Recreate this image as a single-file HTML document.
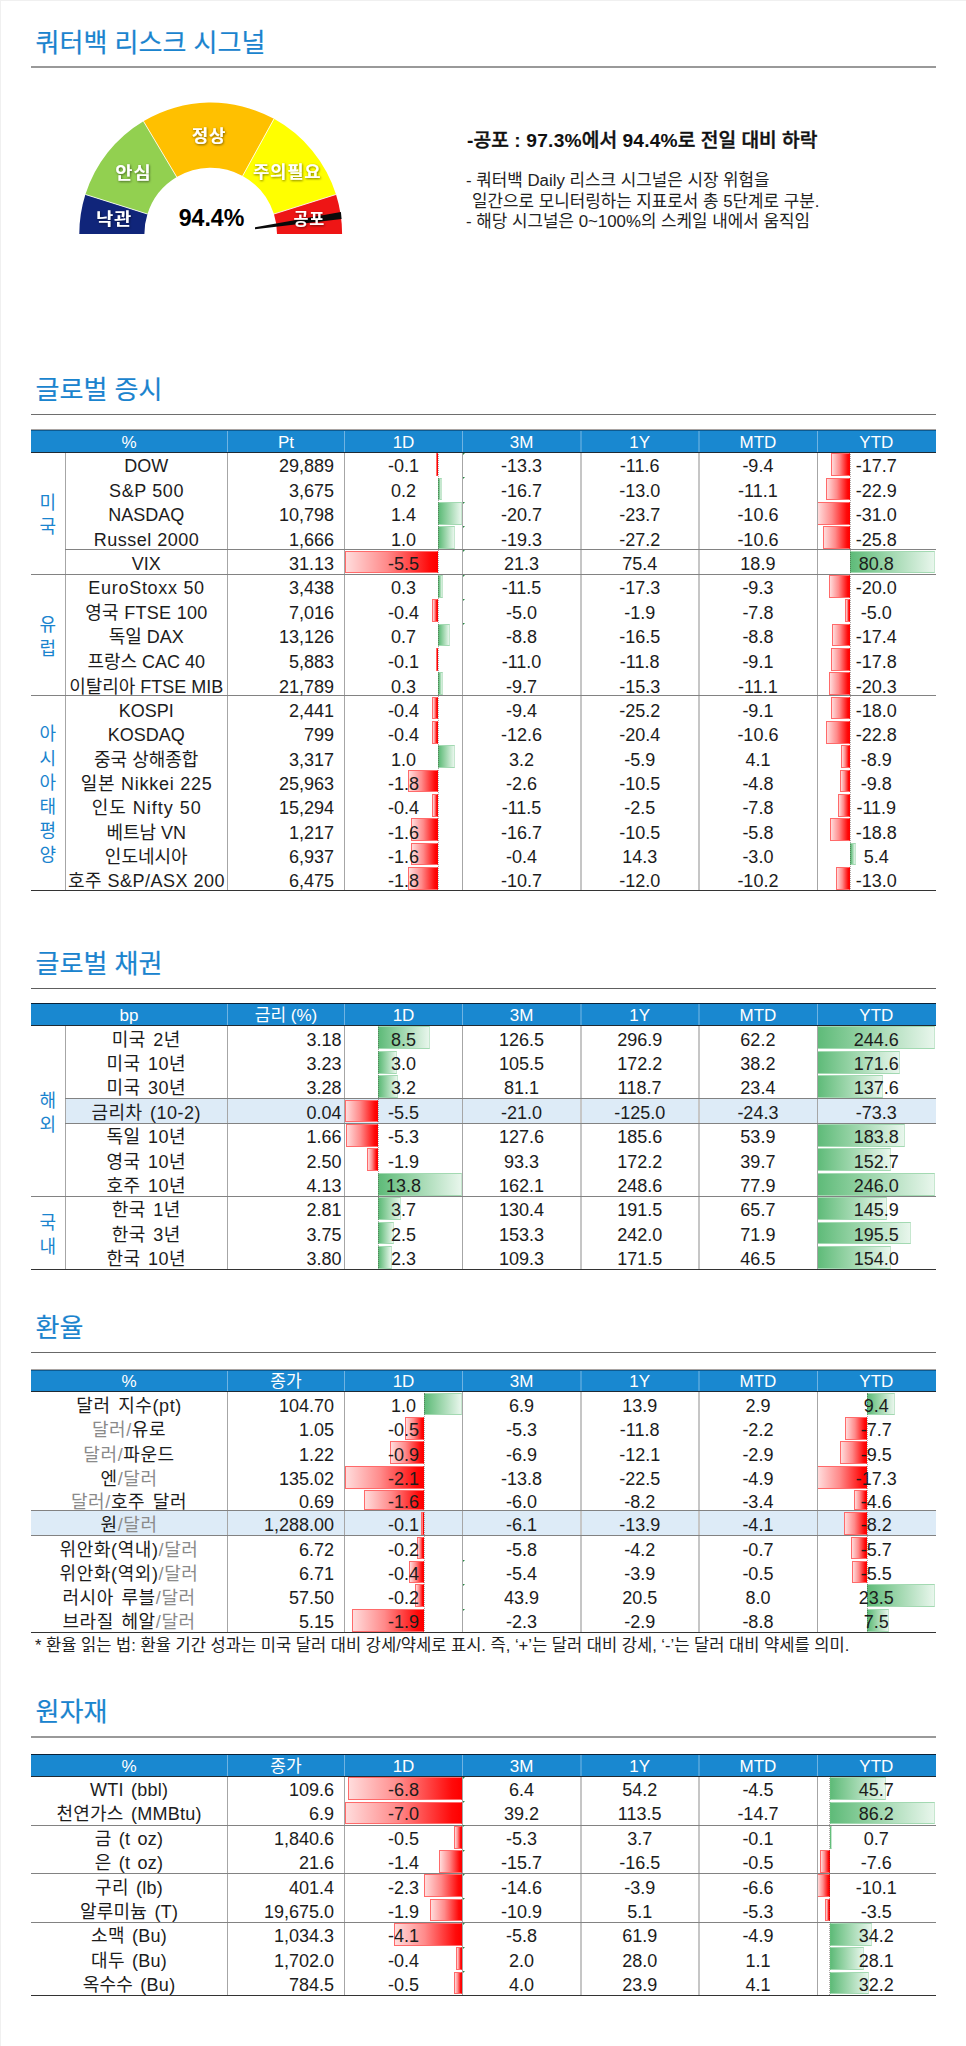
<!DOCTYPE html>
<html lang="ko"><head><meta charset="utf-8"><title>쿼터백 리스크 시그널</title>
<style>
html,body{margin:0;padding:0;background:#fff;}
body{width:966px;height:2046px;position:relative;overflow:hidden;font-family:"Liberation Sans", "Noto Sans CJK KR", sans-serif;color:#1c1c1c;font-size:18px;}
#pg{position:absolute;left:0;top:0;width:966px;height:2046px;overflow:hidden;}
#pg div{position:absolute;box-sizing:border-box;white-space:nowrap;}
.ttl{font-size:26px;line-height:40px;height:40px;color:#1a84ce;letter-spacing:0px;-webkit-text-stroke:.2px #1a84ce;}
.hc{color:#fff;text-align:center;font-size:17px;}
.c{text-align:center;}
.r{text-align:right;}
.rg{color:#1a84ce;text-align:center;display:flex;align-items:center;justify-content:center;}
.rg span{display:block;line-height:24.2px;position:relative;top:1.8px;}
.g{color:#8a8a8a;}
.bg{background:linear-gradient(90deg,#5fbb79 0%,#8fd0a0 35%,#e8f6ec 100%);border:1px solid #a3d9b2;border-left-color:#63be7b;border-right-color:#c6e7cf;}
.br{background:linear-gradient(90deg,#ffdcdc 0%,#ff8a8a 45%,#ff0a0a 92%,#ff0000 100%);border:1px solid #ff6a6a;border-right-color:#f00;}
.tri{width:0;height:0;border-top:2.4px solid #2c8a48;border-right:2.4px solid transparent;}
.p{font-size:16.85px;line-height:20.5px;color:#222;}
.w{letter-spacing:.6px;}
.hd b{font-weight:700;-webkit-text-stroke:0;letter-spacing:.2px;}

</style></head><body><div id="pg">
<div style="left:0px;top:0px;width:966px;height:1px;background:#f0f0f0;"></div>
<div style="left:0px;top:0px;width:1px;height:2046px;background:#f0f0f0;"></div>
<div class="ttl" style="left:35.6px;top:23.2px;">쿼터백 리스크 시그널</div>
<div style="left:31px;top:66px;width:904.6px;height:2px;background:#999;"></div>
<svg width="420" height="200" viewBox="0 60 420 200" style="position:absolute;left:0;top:60px;font-family:'Liberation Sans', 'Noto Sans CJK KR', sans-serif;"><defs><filter id="sh" x="-20%" y="-20%" width="140%" height="150%"><feDropShadow dx="0.6" dy="0.9" stdDeviation="0.9" flood-color="#000" flood-opacity="0.55"/></filter></defs><path d="M79.30 234.00 A131.40 131.40 0 0 1 85.38 194.49 L147.47 214.06 A66.30 66.30 0 0 0 144.40 234.00 Z" fill="#10257a"/><path d="M85.38 194.49 A131.40 131.40 0 0 1 143.42 121.13 L176.75 177.05 A66.30 66.30 0 0 0 147.47 214.06 Z" fill="#92d050"/><path d="M143.42 121.13 A131.40 131.40 0 0 1 274.00 118.85 L242.64 175.90 A66.30 66.30 0 0 0 176.75 177.05 Z" fill="#ffc000"/><path d="M274.00 118.85 A131.40 131.40 0 0 1 336.02 194.49 L273.93 214.06 A66.30 66.30 0 0 0 242.64 175.90 Z" fill="#ffff00"/><path d="M336.02 194.49 A131.40 131.40 0 0 1 342.10 234.00 L277.00 234.00 A66.30 66.30 0 0 0 273.93 214.06 Z" fill="#ee1515"/><line x1="85.38" y1="194.49" x2="147.47" y2="214.06" stroke="#fff" stroke-width="0.9" stroke-opacity="0.9"/><line x1="143.42" y1="121.13" x2="176.75" y2="177.05" stroke="#fff" stroke-width="0.9" stroke-opacity="0.9"/><line x1="274.00" y1="118.85" x2="242.64" y2="175.90" stroke="#fff" stroke-width="0.9" stroke-opacity="0.9"/><line x1="336.02" y1="194.49" x2="273.93" y2="214.06" stroke="#fff" stroke-width="0.9" stroke-opacity="0.9"/><polygon points="255,227.3 255,229.2 341.6,219.1 340.9,212.1" fill="#0a0a0a"/><text transform="translate(114.0 219.5) scale(1.13 1)" x="0" y="0" text-anchor="middle" dominant-baseline="central" font-size="16.6" font-weight="700" letter-spacing="0.7" fill="#fff" filter="url(#sh)">낙관</text><text transform="translate(133.4 173.5) scale(1.13 1)" x="0" y="0" text-anchor="middle" dominant-baseline="central" font-size="16.6" font-weight="700" letter-spacing="0.7" fill="#fff" filter="url(#sh)">안심</text><text transform="translate(209.0 136.5) scale(1.08 1)" x="0" y="0" text-anchor="middle" dominant-baseline="central" font-size="16.6" font-weight="700" letter-spacing="0.7" fill="#fff" filter="url(#sh)">정상</text><text transform="translate(287.2 172.3) scale(1.07 1)" x="0" y="0" text-anchor="middle" dominant-baseline="central" font-size="16.6" font-weight="700" letter-spacing="0.7" fill="#fff" filter="url(#sh)">주의필요</text><text transform="translate(309.2 219.3) scale(0.98 1)" x="0" y="0" text-anchor="middle" dominant-baseline="central" font-size="16.6" font-weight="700" letter-spacing="0.7" fill="#fff" filter="url(#sh)">공포</text><text x="211.5" y="217.5" text-anchor="middle" dominant-baseline="central" font-size="23.2" font-weight="700" fill="#000">94.4%</text></svg>
<div class="hd" style="left:467px;top:128.5px;font-size:19.2px;line-height:24px;font-weight:500;color:#111;-webkit-text-stroke:.45px #111;"><b>-</b>공포 <b>: 97.3%</b>에서 <b>94.4%</b>로 전일 대비 하락</div>
<div class="p" style="left:466px;top:170.5px;">- 쿼터백 Daily 리스크 시그널은 시장 위험을</div>
<div class="p" style="left:472px;top:191.5px;">일간으로 모니터링하는 지표로서 총 5단계로 구분.</div>
<div class="p" style="left:466px;top:212px;">- 해당 시그널은 0~100%의 스케일 내에서 움직임</div>
<div class="ttl" style="left:35.6px;top:370.2px;">글로벌 증시</div>
<div style="left:31px;top:414px;width:904.6px;height:1px;background:#6e6e6e;"></div>
<div style="left:30.6px;top:430px;width:905px;height:22.6px;background:#1988d0;"></div>
<div style="left:30.6px;top:429px;width:905px;height:1px;background:#a9a4a2;"></div>
<div style="left:30.6px;top:430px;width:905px;height:1px;background:#0d5a90;"></div>
<div class="hc" style="left:30.6px;top:431px;width:196.9px;height:21.6px;line-height:23.1px;">%</div>
<div class="hc" style="left:227.5px;top:431px;width:117px;height:21.6px;line-height:23.1px;">Pt</div>
<div class="hc" style="left:344.5px;top:431px;width:118px;height:21.6px;line-height:23.1px;">1D</div>
<div class="hc" style="left:462.5px;top:431px;width:118.1px;height:21.6px;line-height:23.1px;">3M</div>
<div class="hc" style="left:580.6px;top:431px;width:118.2px;height:21.6px;line-height:23.1px;">1Y</div>
<div class="hc" style="left:698.8px;top:431px;width:118.2px;height:21.6px;line-height:23.1px;">MTD</div>
<div class="hc" style="left:817px;top:431px;width:118.6px;height:21.6px;line-height:23.1px;">YTD</div>
<div style="left:227px;top:431px;width:1px;height:21.6px;background:#6fb3e2;"></div>
<div style="left:344px;top:431px;width:1px;height:21.6px;background:#6fb3e2;"></div>
<div style="left:462px;top:431px;width:1px;height:21.6px;background:#6fb3e2;"></div>
<div style="left:580px;top:431px;width:2px;height:21.6px;background:#48a0da;"></div>
<div style="left:698px;top:431px;width:2px;height:21.6px;background:#48a0da;"></div>
<div style="left:817px;top:431px;width:1px;height:21.6px;background:#6fb3e2;"></div>
<div class="br" style="left:436.4px;top:453.3px;width:2px;height:22.83px;"></div>
<div class="bg" style="left:438.4px;top:477.63px;width:3.4px;height:22.83px;"></div>
<div class="bg" style="left:438.4px;top:501.96px;width:23.8px;height:22.83px;"></div>
<div class="bg" style="left:438.4px;top:526.29px;width:17px;height:22.83px;"></div>
<div class="br" style="left:344.9px;top:550.62px;width:93.5px;height:22.83px;"></div>
<div class="bg" style="left:438.4px;top:574.95px;width:5.1px;height:22.83px;"></div>
<div class="br" style="left:431.6px;top:599.28px;width:6.8px;height:22.83px;"></div>
<div class="bg" style="left:438.4px;top:623.61px;width:11.9px;height:22.83px;"></div>
<div class="br" style="left:436.4px;top:647.94px;width:2px;height:22.83px;"></div>
<div class="bg" style="left:438.4px;top:672.27px;width:5.1px;height:22.83px;"></div>
<div class="br" style="left:431.6px;top:696.6px;width:6.8px;height:22.83px;"></div>
<div class="br" style="left:431.6px;top:720.93px;width:6.8px;height:22.83px;"></div>
<div class="bg" style="left:438.4px;top:745.26px;width:17px;height:22.83px;"></div>
<div class="br" style="left:407.8px;top:769.59px;width:30.6px;height:22.83px;"></div>
<div class="br" style="left:431.6px;top:793.92px;width:6.8px;height:22.83px;"></div>
<div class="br" style="left:411.2px;top:818.25px;width:27.2px;height:22.83px;"></div>
<div class="br" style="left:411.2px;top:842.58px;width:27.2px;height:22.83px;"></div>
<div class="br" style="left:407.8px;top:866.91px;width:30.6px;height:22.83px;"></div>
<div style="left:437.9px;top:453.6px;width:0px;height:436.94px;border-left:1px dotted rgba(60,40,40,.4);"></div>
<div class="br" style="left:831.43px;top:453.3px;width:18.67px;height:22.83px;"></div>
<div class="br" style="left:825.94px;top:477.63px;width:24.15px;height:22.83px;"></div>
<div class="br" style="left:817.4px;top:501.96px;width:32.69px;height:22.83px;"></div>
<div class="br" style="left:822.88px;top:526.29px;width:27.21px;height:22.83px;"></div>
<div class="bg" style="left:850.09px;top:550.62px;width:85.21px;height:22.83px;"></div>
<div class="br" style="left:829px;top:574.95px;width:21.09px;height:22.83px;"></div>
<div class="br" style="left:844.82px;top:599.28px;width:5.27px;height:22.83px;"></div>
<div class="br" style="left:831.74px;top:623.61px;width:18.35px;height:22.83px;"></div>
<div class="br" style="left:831.32px;top:647.94px;width:18.77px;height:22.83px;"></div>
<div class="br" style="left:828.68px;top:672.27px;width:21.41px;height:22.83px;"></div>
<div class="br" style="left:831.11px;top:696.6px;width:18.98px;height:22.83px;"></div>
<div class="br" style="left:826.05px;top:720.93px;width:24.04px;height:22.83px;"></div>
<div class="br" style="left:840.71px;top:745.26px;width:9.39px;height:22.83px;"></div>
<div class="br" style="left:839.76px;top:769.59px;width:10.33px;height:22.83px;"></div>
<div class="br" style="left:837.54px;top:793.92px;width:12.55px;height:22.83px;"></div>
<div class="br" style="left:830.27px;top:818.25px;width:19.83px;height:22.83px;"></div>
<div class="bg" style="left:850.09px;top:842.58px;width:5.69px;height:22.83px;"></div>
<div class="br" style="left:836.38px;top:866.91px;width:13.71px;height:22.83px;"></div>
<div style="left:849.59px;top:453.6px;width:0px;height:436.94px;border-left:1px dotted rgba(60,40,40,.4);"></div>
<div style="left:65px;top:452.6px;width:1px;height:437.94px;background:#a6a6a6;"></div>
<div style="left:227px;top:452.6px;width:1px;height:437.94px;background:#a6a6a6;"></div>
<div style="left:344px;top:452.6px;width:1px;height:437.94px;background:#a6a6a6;"></div>
<div style="left:462px;top:452.6px;width:1px;height:437.94px;background:#a6a6a6;"></div>
<div style="left:580px;top:452.6px;width:2px;height:437.94px;background:#c6c6c6;"></div>
<div style="left:698px;top:452.6px;width:2px;height:437.94px;background:#c6c6c6;"></div>
<div style="left:817px;top:452.6px;width:1px;height:437.94px;background:#a6a6a6;"></div>
<div style="left:30.6px;top:452px;width:905px;height:1px;background:#1f2a33;"></div>
<div style="left:30.6px;top:890.14px;width:905px;height:1.2px;background:#333;"></div>
<div style="left:65px;top:549.42px;width:870.6px;height:1px;background:#828282;"></div>
<div style="left:30.6px;top:573.75px;width:905px;height:1px;background:#828282;"></div>
<div style="left:30.6px;top:695.4px;width:905px;height:1px;background:#828282;"></div>
<div class="rg" style="left:30.6px;top:452.6px;width:34.4px;height:121.65px;"><span>미<br>국</span></div>
<div class="rg" style="left:30.6px;top:574.25px;width:34.4px;height:121.65px;"><span>유<br>럽</span></div>
<div class="rg" style="left:30.6px;top:695.9px;width:34.4px;height:194.64px;"><span>아<br>시<br>아<br>태<br>평<br>양</span></div>
<div class="c" style="left:65px;top:452.6px;width:162.5px;height:24.33px;line-height:27.73px;">DOW</div>
<div class="r" style="left:227.5px;top:452.6px;width:106.5px;height:24.33px;line-height:27.73px;">29,889</div>
<div class="c" style="left:344.5px;top:452.6px;width:118px;height:24.33px;line-height:27.73px;">-0.1</div>
<div class="c" style="left:462.5px;top:452.6px;width:118.1px;height:24.33px;line-height:27.73px;">-13.3</div>
<div class="c" style="left:580.6px;top:452.6px;width:118.2px;height:24.33px;line-height:27.73px;">-11.6</div>
<div class="c" style="left:698.8px;top:452.6px;width:118.2px;height:24.33px;line-height:27.73px;">-9.4</div>
<div class="c" style="left:817px;top:452.6px;width:118.6px;height:24.33px;line-height:27.73px;">-17.7</div>
<div class="c" style="left:65px;top:476.93px;width:162.5px;height:24.33px;line-height:28.03px;"><span style="letter-spacing:0.6px;margin-right:-0.6px">S&amp;P 500</span></div>
<div class="r" style="left:227.5px;top:476.93px;width:106.5px;height:24.33px;line-height:28.03px;">3,675</div>
<div class="c" style="left:344.5px;top:476.93px;width:118px;height:24.33px;line-height:28.03px;">0.2</div>
<div class="c" style="left:462.5px;top:476.93px;width:118.1px;height:24.33px;line-height:28.03px;">-16.7</div>
<div class="c" style="left:580.6px;top:476.93px;width:118.2px;height:24.33px;line-height:28.03px;">-13.0</div>
<div class="c" style="left:698.8px;top:476.93px;width:118.2px;height:24.33px;line-height:28.03px;">-11.1</div>
<div class="c" style="left:817px;top:476.93px;width:118.6px;height:24.33px;line-height:28.03px;">-22.9</div>
<div class="c" style="left:65px;top:501.26px;width:162.5px;height:24.33px;line-height:28.33px;">NASDAQ</div>
<div class="r" style="left:227.5px;top:501.26px;width:106.5px;height:24.33px;line-height:28.33px;">10,798</div>
<div class="c" style="left:344.5px;top:501.26px;width:118px;height:24.33px;line-height:28.33px;">1.4</div>
<div class="c" style="left:462.5px;top:501.26px;width:118.1px;height:24.33px;line-height:28.33px;">-20.7</div>
<div class="c" style="left:580.6px;top:501.26px;width:118.2px;height:24.33px;line-height:28.33px;">-23.7</div>
<div class="c" style="left:698.8px;top:501.26px;width:118.2px;height:24.33px;line-height:28.33px;">-10.6</div>
<div class="c" style="left:817px;top:501.26px;width:118.6px;height:24.33px;line-height:28.33px;">-31.0</div>
<div class="c" style="left:65px;top:525.59px;width:162.5px;height:24.33px;line-height:28.63px;"><span style="letter-spacing:0.5px;margin-right:-0.5px">Russel 2000</span></div>
<div class="r" style="left:227.5px;top:525.59px;width:106.5px;height:24.33px;line-height:28.63px;">1,666</div>
<div class="c" style="left:344.5px;top:525.59px;width:118px;height:24.33px;line-height:28.63px;">1.0</div>
<div class="c" style="left:462.5px;top:525.59px;width:118.1px;height:24.33px;line-height:28.63px;">-19.3</div>
<div class="c" style="left:580.6px;top:525.59px;width:118.2px;height:24.33px;line-height:28.63px;">-27.2</div>
<div class="c" style="left:698.8px;top:525.59px;width:118.2px;height:24.33px;line-height:28.63px;">-10.6</div>
<div class="c" style="left:817px;top:525.59px;width:118.6px;height:24.33px;line-height:28.63px;">-25.8</div>
<div class="c" style="left:65px;top:549.92px;width:162.5px;height:24.33px;line-height:28.93px;">VIX</div>
<div class="r" style="left:227.5px;top:549.92px;width:106.5px;height:24.33px;line-height:28.93px;">31.13</div>
<div class="c" style="left:344.5px;top:549.92px;width:118px;height:24.33px;line-height:28.93px;">-5.5</div>
<div class="c" style="left:462.5px;top:549.92px;width:118.1px;height:24.33px;line-height:28.93px;">21.3</div>
<div class="c" style="left:580.6px;top:549.92px;width:118.2px;height:24.33px;line-height:28.93px;">75.4</div>
<div class="c" style="left:698.8px;top:549.92px;width:118.2px;height:24.33px;line-height:28.93px;">18.9</div>
<div class="c" style="left:817px;top:549.92px;width:118.6px;height:24.33px;line-height:28.93px;">80.8</div>
<div class="c" style="left:65px;top:574.25px;width:162.5px;height:24.33px;line-height:29.23px;"><span style="letter-spacing:0.7px;margin-right:-0.7px">EuroStoxx 50</span></div>
<div class="r" style="left:227.5px;top:574.25px;width:106.5px;height:24.33px;line-height:29.23px;">3,438</div>
<div class="c" style="left:344.5px;top:574.25px;width:118px;height:24.33px;line-height:29.23px;">0.3</div>
<div class="c" style="left:462.5px;top:574.25px;width:118.1px;height:24.33px;line-height:29.23px;">-11.5</div>
<div class="c" style="left:580.6px;top:574.25px;width:118.2px;height:24.33px;line-height:29.23px;">-17.3</div>
<div class="c" style="left:698.8px;top:574.25px;width:118.2px;height:24.33px;line-height:29.23px;">-9.3</div>
<div class="c" style="left:817px;top:574.25px;width:118.6px;height:24.33px;line-height:29.23px;">-20.0</div>
<div class="c" style="left:65px;top:598.58px;width:162.5px;height:24.33px;line-height:29.53px;"><span style="letter-spacing:0.3px;margin-right:-0.3px">영국 FTSE 100</span></div>
<div class="r" style="left:227.5px;top:598.58px;width:106.5px;height:24.33px;line-height:29.53px;">7,016</div>
<div class="c" style="left:344.5px;top:598.58px;width:118px;height:24.33px;line-height:29.53px;">-0.4</div>
<div class="c" style="left:462.5px;top:598.58px;width:118.1px;height:24.33px;line-height:29.53px;">-5.0</div>
<div class="c" style="left:580.6px;top:598.58px;width:118.2px;height:24.33px;line-height:29.53px;">-1.9</div>
<div class="c" style="left:698.8px;top:598.58px;width:118.2px;height:24.33px;line-height:29.53px;">-7.8</div>
<div class="c" style="left:817px;top:598.58px;width:118.6px;height:24.33px;line-height:29.53px;">-5.0</div>
<div class="c" style="left:65px;top:622.91px;width:162.5px;height:24.33px;line-height:29.83px;">독일 DAX</div>
<div class="r" style="left:227.5px;top:622.91px;width:106.5px;height:24.33px;line-height:29.83px;">13,126</div>
<div class="c" style="left:344.5px;top:622.91px;width:118px;height:24.33px;line-height:29.83px;">0.7</div>
<div class="c" style="left:462.5px;top:622.91px;width:118.1px;height:24.33px;line-height:29.83px;">-8.8</div>
<div class="c" style="left:580.6px;top:622.91px;width:118.2px;height:24.33px;line-height:29.83px;">-16.5</div>
<div class="c" style="left:698.8px;top:622.91px;width:118.2px;height:24.33px;line-height:29.83px;">-8.8</div>
<div class="c" style="left:817px;top:622.91px;width:118.6px;height:24.33px;line-height:29.83px;">-17.4</div>
<div class="c" style="left:65px;top:647.24px;width:162.5px;height:24.33px;line-height:30.13px;">프랑스 CAC 40</div>
<div class="r" style="left:227.5px;top:647.24px;width:106.5px;height:24.33px;line-height:30.13px;">5,883</div>
<div class="c" style="left:344.5px;top:647.24px;width:118px;height:24.33px;line-height:30.13px;">-0.1</div>
<div class="c" style="left:462.5px;top:647.24px;width:118.1px;height:24.33px;line-height:30.13px;">-11.0</div>
<div class="c" style="left:580.6px;top:647.24px;width:118.2px;height:24.33px;line-height:30.13px;">-11.8</div>
<div class="c" style="left:698.8px;top:647.24px;width:118.2px;height:24.33px;line-height:30.13px;">-9.1</div>
<div class="c" style="left:817px;top:647.24px;width:118.6px;height:24.33px;line-height:30.13px;">-17.8</div>
<div class="c" style="left:65px;top:671.57px;width:162.5px;height:24.33px;line-height:30.43px;">이탈리아 FTSE MIB</div>
<div class="r" style="left:227.5px;top:671.57px;width:106.5px;height:24.33px;line-height:30.43px;">21,789</div>
<div class="c" style="left:344.5px;top:671.57px;width:118px;height:24.33px;line-height:30.43px;">0.3</div>
<div class="c" style="left:462.5px;top:671.57px;width:118.1px;height:24.33px;line-height:30.43px;">-9.7</div>
<div class="c" style="left:580.6px;top:671.57px;width:118.2px;height:24.33px;line-height:30.43px;">-15.3</div>
<div class="c" style="left:698.8px;top:671.57px;width:118.2px;height:24.33px;line-height:30.43px;">-11.1</div>
<div class="c" style="left:817px;top:671.57px;width:118.6px;height:24.33px;line-height:30.43px;">-20.3</div>
<div class="c" style="left:65px;top:695.9px;width:162.5px;height:24.33px;line-height:30.53px;">KOSPI</div>
<div class="r" style="left:227.5px;top:695.9px;width:106.5px;height:24.33px;line-height:30.53px;">2,441</div>
<div class="c" style="left:344.5px;top:695.9px;width:118px;height:24.33px;line-height:30.53px;">-0.4</div>
<div class="c" style="left:462.5px;top:695.9px;width:118.1px;height:24.33px;line-height:30.53px;">-9.4</div>
<div class="c" style="left:580.6px;top:695.9px;width:118.2px;height:24.33px;line-height:30.53px;">-25.2</div>
<div class="c" style="left:698.8px;top:695.9px;width:118.2px;height:24.33px;line-height:30.53px;">-9.1</div>
<div class="c" style="left:817px;top:695.9px;width:118.6px;height:24.33px;line-height:30.53px;">-18.0</div>
<div class="c" style="left:65px;top:720.23px;width:162.5px;height:24.33px;line-height:30.53px;">KOSDAQ</div>
<div class="r" style="left:227.5px;top:720.23px;width:106.5px;height:24.33px;line-height:30.53px;">799</div>
<div class="c" style="left:344.5px;top:720.23px;width:118px;height:24.33px;line-height:30.53px;">-0.4</div>
<div class="c" style="left:462.5px;top:720.23px;width:118.1px;height:24.33px;line-height:30.53px;">-12.6</div>
<div class="c" style="left:580.6px;top:720.23px;width:118.2px;height:24.33px;line-height:30.53px;">-20.4</div>
<div class="c" style="left:698.8px;top:720.23px;width:118.2px;height:24.33px;line-height:30.53px;">-10.6</div>
<div class="c" style="left:817px;top:720.23px;width:118.6px;height:24.33px;line-height:30.53px;">-22.8</div>
<div class="c" style="left:65px;top:744.56px;width:162.5px;height:24.33px;line-height:30.53px;">중국 상해종합</div>
<div class="r" style="left:227.5px;top:744.56px;width:106.5px;height:24.33px;line-height:30.53px;">3,317</div>
<div class="c" style="left:344.5px;top:744.56px;width:118px;height:24.33px;line-height:30.53px;">1.0</div>
<div class="c" style="left:462.5px;top:744.56px;width:118.1px;height:24.33px;line-height:30.53px;">3.2</div>
<div class="c" style="left:580.6px;top:744.56px;width:118.2px;height:24.33px;line-height:30.53px;">-5.9</div>
<div class="c" style="left:698.8px;top:744.56px;width:118.2px;height:24.33px;line-height:30.53px;">4.1</div>
<div class="c" style="left:817px;top:744.56px;width:118.6px;height:24.33px;line-height:30.53px;">-8.9</div>
<div class="c" style="left:65px;top:768.89px;width:162.5px;height:24.33px;line-height:30.53px;"><span style="letter-spacing:0.75px;margin-right:-0.75px">일본 Nikkei 225</span></div>
<div class="r" style="left:227.5px;top:768.89px;width:106.5px;height:24.33px;line-height:30.53px;">25,963</div>
<div class="c" style="left:344.5px;top:768.89px;width:118px;height:24.33px;line-height:30.53px;">-1.8</div>
<div class="c" style="left:462.5px;top:768.89px;width:118.1px;height:24.33px;line-height:30.53px;">-2.6</div>
<div class="c" style="left:580.6px;top:768.89px;width:118.2px;height:24.33px;line-height:30.53px;">-10.5</div>
<div class="c" style="left:698.8px;top:768.89px;width:118.2px;height:24.33px;line-height:30.53px;">-4.8</div>
<div class="c" style="left:817px;top:768.89px;width:118.6px;height:24.33px;line-height:30.53px;">-9.8</div>
<div class="c" style="left:65px;top:793.22px;width:162.5px;height:24.33px;line-height:30.53px;"><span style="letter-spacing:1.0px;margin-right:-1.0px">인도 Nifty 50</span></div>
<div class="r" style="left:227.5px;top:793.22px;width:106.5px;height:24.33px;line-height:30.53px;">15,294</div>
<div class="c" style="left:344.5px;top:793.22px;width:118px;height:24.33px;line-height:30.53px;">-0.4</div>
<div class="c" style="left:462.5px;top:793.22px;width:118.1px;height:24.33px;line-height:30.53px;">-11.5</div>
<div class="c" style="left:580.6px;top:793.22px;width:118.2px;height:24.33px;line-height:30.53px;">-2.5</div>
<div class="c" style="left:698.8px;top:793.22px;width:118.2px;height:24.33px;line-height:30.53px;">-7.8</div>
<div class="c" style="left:817px;top:793.22px;width:118.6px;height:24.33px;line-height:30.53px;">-11.9</div>
<div class="c" style="left:65px;top:817.55px;width:162.5px;height:24.33px;line-height:30.53px;">베트남 VN</div>
<div class="r" style="left:227.5px;top:817.55px;width:106.5px;height:24.33px;line-height:30.53px;">1,217</div>
<div class="c" style="left:344.5px;top:817.55px;width:118px;height:24.33px;line-height:30.53px;">-1.6</div>
<div class="c" style="left:462.5px;top:817.55px;width:118.1px;height:24.33px;line-height:30.53px;">-16.7</div>
<div class="c" style="left:580.6px;top:817.55px;width:118.2px;height:24.33px;line-height:30.53px;">-10.5</div>
<div class="c" style="left:698.8px;top:817.55px;width:118.2px;height:24.33px;line-height:30.53px;">-5.8</div>
<div class="c" style="left:817px;top:817.55px;width:118.6px;height:24.33px;line-height:30.53px;">-18.8</div>
<div class="c" style="left:65px;top:841.88px;width:162.5px;height:24.33px;line-height:30.53px;">인도네시아</div>
<div class="r" style="left:227.5px;top:841.88px;width:106.5px;height:24.33px;line-height:30.53px;">6,937</div>
<div class="c" style="left:344.5px;top:841.88px;width:118px;height:24.33px;line-height:30.53px;">-1.6</div>
<div class="c" style="left:462.5px;top:841.88px;width:118.1px;height:24.33px;line-height:30.53px;">-0.4</div>
<div class="c" style="left:580.6px;top:841.88px;width:118.2px;height:24.33px;line-height:30.53px;">14.3</div>
<div class="c" style="left:698.8px;top:841.88px;width:118.2px;height:24.33px;line-height:30.53px;">-3.0</div>
<div class="c" style="left:817px;top:841.88px;width:118.6px;height:24.33px;line-height:30.53px;">5.4</div>
<div class="c" style="left:65px;top:866.21px;width:162.5px;height:24.33px;line-height:30.53px;"><span style="letter-spacing:0.5px;margin-right:-0.5px">호주 S&amp;P/ASX 200</span></div>
<div class="r" style="left:227.5px;top:866.21px;width:106.5px;height:24.33px;line-height:30.53px;">6,475</div>
<div class="c" style="left:344.5px;top:866.21px;width:118px;height:24.33px;line-height:30.53px;">-1.8</div>
<div class="c" style="left:462.5px;top:866.21px;width:118.1px;height:24.33px;line-height:30.53px;">-10.7</div>
<div class="c" style="left:580.6px;top:866.21px;width:118.2px;height:24.33px;line-height:30.53px;">-12.0</div>
<div class="c" style="left:698.8px;top:866.21px;width:118.2px;height:24.33px;line-height:30.53px;">-10.2</div>
<div class="c" style="left:817px;top:866.21px;width:118.6px;height:24.33px;line-height:30.53px;">-13.0</div>
<div class="tri" style="left:462.8px;top:452.9px;"></div>
<div class="tri" style="left:462.8px;top:477.23px;"></div>
<div class="tri" style="left:462.8px;top:501.56px;"></div>
<div class="tri" style="left:462.8px;top:525.89px;"></div>
<div class="tri" style="left:462.8px;top:550.22px;"></div>
<div class="tri" style="left:462.8px;top:574.55px;"></div>
<div class="tri" style="left:462.8px;top:598.88px;"></div>
<div class="tri" style="left:462.8px;top:623.21px;"></div>
<div class="ttl" style="left:35.6px;top:944.2px;">글로벌 채권</div>
<div style="left:31px;top:988px;width:904.6px;height:1px;background:#5e5e5e;"></div>
<div style="left:30.6px;top:1003px;width:905px;height:22.6px;background:#1988d0;"></div>
<div style="left:30.6px;top:1003px;width:905px;height:1px;background:#0a2238;"></div>
<div class="hc" style="left:30.6px;top:1004px;width:196.9px;height:21.6px;line-height:23.1px;">bp</div>
<div class="hc" style="left:227.5px;top:1004px;width:117px;height:21.6px;line-height:23.1px;">금리 (%)</div>
<div class="hc" style="left:344.5px;top:1004px;width:118px;height:21.6px;line-height:23.1px;">1D</div>
<div class="hc" style="left:462.5px;top:1004px;width:118.1px;height:21.6px;line-height:23.1px;">3M</div>
<div class="hc" style="left:580.6px;top:1004px;width:118.2px;height:21.6px;line-height:23.1px;">1Y</div>
<div class="hc" style="left:698.8px;top:1004px;width:118.2px;height:21.6px;line-height:23.1px;">MTD</div>
<div class="hc" style="left:817px;top:1004px;width:118.6px;height:21.6px;line-height:23.1px;">YTD</div>
<div style="left:227px;top:1004px;width:1px;height:21.6px;background:#6fb3e2;"></div>
<div style="left:344px;top:1004px;width:1px;height:21.6px;background:#6fb3e2;"></div>
<div style="left:462px;top:1004px;width:1px;height:21.6px;background:#6fb3e2;"></div>
<div style="left:580px;top:1004px;width:2px;height:21.6px;background:#48a0da;"></div>
<div style="left:698px;top:1004px;width:2px;height:21.6px;background:#48a0da;"></div>
<div style="left:817px;top:1004px;width:1px;height:21.6px;background:#6fb3e2;"></div>
<div style="left:65px;top:1098.8px;width:870.6px;height:24.4px;background:#ddebf7;"></div>
<div class="bg" style="left:378.33px;top:1026.3px;width:51.66px;height:22.9px;"></div>
<div class="bg" style="left:378.33px;top:1050.7px;width:18.23px;height:22.9px;"></div>
<div class="bg" style="left:378.33px;top:1075.1px;width:19.45px;height:22.9px;"></div>
<div class="br" style="left:344.9px;top:1099.5px;width:33.43px;height:22.9px;"></div>
<div class="br" style="left:346.12px;top:1123.9px;width:32.21px;height:22.9px;"></div>
<div class="br" style="left:366.78px;top:1148.3px;width:11.55px;height:22.9px;"></div>
<div class="bg" style="left:378.33px;top:1172.7px;width:83.87px;height:22.9px;"></div>
<div class="bg" style="left:378.33px;top:1197.1px;width:22.49px;height:22.9px;"></div>
<div class="bg" style="left:378.33px;top:1221.5px;width:15.19px;height:22.9px;"></div>
<div class="bg" style="left:378.33px;top:1245.9px;width:13.98px;height:22.9px;"></div>
<div style="left:377.83px;top:1026.6px;width:0px;height:243px;border-left:1px dotted rgba(60,40,40,.4);"></div>
<div class="bg" style="left:817.4px;top:1026.3px;width:117.23px;height:22.9px;"></div>
<div class="bg" style="left:817.4px;top:1050.7px;width:82.24px;height:22.9px;"></div>
<div class="bg" style="left:817.4px;top:1075.1px;width:65.95px;height:22.9px;"></div>
<div class="bg" style="left:817.4px;top:1123.9px;width:88.09px;height:22.9px;"></div>
<div class="bg" style="left:817.4px;top:1148.3px;width:73.18px;height:22.9px;"></div>
<div class="bg" style="left:817.4px;top:1172.7px;width:117.9px;height:22.9px;"></div>
<div class="bg" style="left:817.4px;top:1197.1px;width:69.93px;height:22.9px;"></div>
<div class="bg" style="left:817.4px;top:1221.5px;width:93.7px;height:22.9px;"></div>
<div class="bg" style="left:817.4px;top:1245.9px;width:73.81px;height:22.9px;"></div>
<div style="left:65px;top:1025.6px;width:1px;height:244px;background:#a6a6a6;"></div>
<div style="left:227px;top:1025.6px;width:1px;height:244px;background:#a6a6a6;"></div>
<div style="left:344px;top:1025.6px;width:1px;height:244px;background:#a6a6a6;"></div>
<div style="left:462px;top:1025.6px;width:1px;height:244px;background:#a6a6a6;"></div>
<div style="left:580px;top:1025.6px;width:2px;height:244px;background:#c6c6c6;"></div>
<div style="left:698px;top:1025.6px;width:2px;height:244px;background:#c6c6c6;"></div>
<div style="left:817px;top:1025.6px;width:1px;height:244px;background:#a6a6a6;"></div>
<div style="left:30.6px;top:1025px;width:905px;height:1px;background:#1f2a33;"></div>
<div style="left:30.6px;top:1269.2px;width:905px;height:1.2px;background:#333;"></div>
<div style="left:65px;top:1098.3px;width:870.6px;height:1px;background:#828282;"></div>
<div style="left:65px;top:1122.7px;width:870.6px;height:1px;background:#828282;"></div>
<div style="left:30.6px;top:1195.9px;width:905px;height:1px;background:#828282;"></div>
<div class="rg" style="left:30.6px;top:1025.6px;width:34.4px;height:170.8px;"><span>해<br>외</span></div>
<div class="rg" style="left:30.6px;top:1196.4px;width:34.4px;height:73.2px;"><span>국<br>내</span></div>
<div class="c" style="left:65px;top:1025.6px;width:162.5px;height:24.4px;line-height:29.6px;word-spacing:1.8px;letter-spacing:.5px;">미국 2년</div>
<div class="r" style="left:227.5px;top:1025.6px;width:114px;height:24.4px;line-height:29.6px;">3.18</div>
<div class="c" style="left:344.5px;top:1025.6px;width:118px;height:24.4px;line-height:29.6px;">8.5</div>
<div class="c" style="left:462.5px;top:1025.6px;width:118.1px;height:24.4px;line-height:29.6px;">126.5</div>
<div class="c" style="left:580.6px;top:1025.6px;width:118.2px;height:24.4px;line-height:29.6px;">296.9</div>
<div class="c" style="left:698.8px;top:1025.6px;width:118.2px;height:24.4px;line-height:29.6px;">62.2</div>
<div class="c" style="left:817px;top:1025.6px;width:118.6px;height:24.4px;line-height:29.6px;">244.6</div>
<div class="c" style="left:65px;top:1050px;width:162.5px;height:24.4px;line-height:29.6px;word-spacing:1.8px;letter-spacing:.5px;">미국 10년</div>
<div class="r" style="left:227.5px;top:1050px;width:114px;height:24.4px;line-height:29.6px;">3.23</div>
<div class="c" style="left:344.5px;top:1050px;width:118px;height:24.4px;line-height:29.6px;">3.0</div>
<div class="c" style="left:462.5px;top:1050px;width:118.1px;height:24.4px;line-height:29.6px;">105.5</div>
<div class="c" style="left:580.6px;top:1050px;width:118.2px;height:24.4px;line-height:29.6px;">172.2</div>
<div class="c" style="left:698.8px;top:1050px;width:118.2px;height:24.4px;line-height:29.6px;">38.2</div>
<div class="c" style="left:817px;top:1050px;width:118.6px;height:24.4px;line-height:29.6px;">171.6</div>
<div class="c" style="left:65px;top:1074.4px;width:162.5px;height:24.4px;line-height:29.6px;word-spacing:1.8px;letter-spacing:.5px;">미국 30년</div>
<div class="r" style="left:227.5px;top:1074.4px;width:114px;height:24.4px;line-height:29.6px;">3.28</div>
<div class="c" style="left:344.5px;top:1074.4px;width:118px;height:24.4px;line-height:29.6px;">3.2</div>
<div class="c" style="left:462.5px;top:1074.4px;width:118.1px;height:24.4px;line-height:29.6px;">81.1</div>
<div class="c" style="left:580.6px;top:1074.4px;width:118.2px;height:24.4px;line-height:29.6px;">118.7</div>
<div class="c" style="left:698.8px;top:1074.4px;width:118.2px;height:24.4px;line-height:29.6px;">23.4</div>
<div class="c" style="left:817px;top:1074.4px;width:118.6px;height:24.4px;line-height:29.6px;">137.6</div>
<div class="c" style="left:65px;top:1098.8px;width:162.5px;height:24.4px;line-height:29.6px;word-spacing:1.8px;letter-spacing:.5px;">금리차 (10-2)</div>
<div class="r" style="left:227.5px;top:1098.8px;width:114px;height:24.4px;line-height:29.6px;">0.04</div>
<div class="c" style="left:344.5px;top:1098.8px;width:118px;height:24.4px;line-height:29.6px;">-5.5</div>
<div class="c" style="left:462.5px;top:1098.8px;width:118.1px;height:24.4px;line-height:29.6px;">-21.0</div>
<div class="c" style="left:580.6px;top:1098.8px;width:118.2px;height:24.4px;line-height:29.6px;">-125.0</div>
<div class="c" style="left:698.8px;top:1098.8px;width:118.2px;height:24.4px;line-height:29.6px;">-24.3</div>
<div class="c" style="left:817px;top:1098.8px;width:118.6px;height:24.4px;line-height:29.6px;">-73.3</div>
<div class="c" style="left:65px;top:1123.2px;width:162.5px;height:24.4px;line-height:29.6px;word-spacing:1.8px;letter-spacing:.5px;">독일 10년</div>
<div class="r" style="left:227.5px;top:1123.2px;width:114px;height:24.4px;line-height:29.6px;">1.66</div>
<div class="c" style="left:344.5px;top:1123.2px;width:118px;height:24.4px;line-height:29.6px;">-5.3</div>
<div class="c" style="left:462.5px;top:1123.2px;width:118.1px;height:24.4px;line-height:29.6px;">127.6</div>
<div class="c" style="left:580.6px;top:1123.2px;width:118.2px;height:24.4px;line-height:29.6px;">185.6</div>
<div class="c" style="left:698.8px;top:1123.2px;width:118.2px;height:24.4px;line-height:29.6px;">53.9</div>
<div class="c" style="left:817px;top:1123.2px;width:118.6px;height:24.4px;line-height:29.6px;">183.8</div>
<div class="c" style="left:65px;top:1147.6px;width:162.5px;height:24.4px;line-height:29.6px;word-spacing:1.8px;letter-spacing:.5px;">영국 10년</div>
<div class="r" style="left:227.5px;top:1147.6px;width:114px;height:24.4px;line-height:29.6px;">2.50</div>
<div class="c" style="left:344.5px;top:1147.6px;width:118px;height:24.4px;line-height:29.6px;">-1.9</div>
<div class="c" style="left:462.5px;top:1147.6px;width:118.1px;height:24.4px;line-height:29.6px;">93.3</div>
<div class="c" style="left:580.6px;top:1147.6px;width:118.2px;height:24.4px;line-height:29.6px;">172.2</div>
<div class="c" style="left:698.8px;top:1147.6px;width:118.2px;height:24.4px;line-height:29.6px;">39.7</div>
<div class="c" style="left:817px;top:1147.6px;width:118.6px;height:24.4px;line-height:29.6px;">152.7</div>
<div class="c" style="left:65px;top:1172px;width:162.5px;height:24.4px;line-height:29.6px;word-spacing:1.8px;letter-spacing:.5px;">호주 10년</div>
<div class="r" style="left:227.5px;top:1172px;width:114px;height:24.4px;line-height:29.6px;">4.13</div>
<div class="c" style="left:344.5px;top:1172px;width:118px;height:24.4px;line-height:29.6px;">13.8</div>
<div class="c" style="left:462.5px;top:1172px;width:118.1px;height:24.4px;line-height:29.6px;">162.1</div>
<div class="c" style="left:580.6px;top:1172px;width:118.2px;height:24.4px;line-height:29.6px;">248.6</div>
<div class="c" style="left:698.8px;top:1172px;width:118.2px;height:24.4px;line-height:29.6px;">77.9</div>
<div class="c" style="left:817px;top:1172px;width:118.6px;height:24.4px;line-height:29.6px;">246.0</div>
<div class="c" style="left:65px;top:1196.4px;width:162.5px;height:24.4px;line-height:29.6px;word-spacing:1.8px;letter-spacing:.5px;">한국 1년</div>
<div class="r" style="left:227.5px;top:1196.4px;width:114px;height:24.4px;line-height:29.6px;">2.81</div>
<div class="c" style="left:344.5px;top:1196.4px;width:118px;height:24.4px;line-height:29.6px;">3.7</div>
<div class="c" style="left:462.5px;top:1196.4px;width:118.1px;height:24.4px;line-height:29.6px;">130.4</div>
<div class="c" style="left:580.6px;top:1196.4px;width:118.2px;height:24.4px;line-height:29.6px;">191.5</div>
<div class="c" style="left:698.8px;top:1196.4px;width:118.2px;height:24.4px;line-height:29.6px;">65.7</div>
<div class="c" style="left:817px;top:1196.4px;width:118.6px;height:24.4px;line-height:29.6px;">145.9</div>
<div class="c" style="left:65px;top:1220.8px;width:162.5px;height:24.4px;line-height:29.6px;word-spacing:1.8px;letter-spacing:.5px;">한국 3년</div>
<div class="r" style="left:227.5px;top:1220.8px;width:114px;height:24.4px;line-height:29.6px;">3.75</div>
<div class="c" style="left:344.5px;top:1220.8px;width:118px;height:24.4px;line-height:29.6px;">2.5</div>
<div class="c" style="left:462.5px;top:1220.8px;width:118.1px;height:24.4px;line-height:29.6px;">153.3</div>
<div class="c" style="left:580.6px;top:1220.8px;width:118.2px;height:24.4px;line-height:29.6px;">242.0</div>
<div class="c" style="left:698.8px;top:1220.8px;width:118.2px;height:24.4px;line-height:29.6px;">71.9</div>
<div class="c" style="left:817px;top:1220.8px;width:118.6px;height:24.4px;line-height:29.6px;">195.5</div>
<div class="c" style="left:65px;top:1245.2px;width:162.5px;height:24.4px;line-height:29.6px;word-spacing:1.8px;letter-spacing:.5px;">한국 10년</div>
<div class="r" style="left:227.5px;top:1245.2px;width:114px;height:24.4px;line-height:29.6px;">3.80</div>
<div class="c" style="left:344.5px;top:1245.2px;width:118px;height:24.4px;line-height:29.6px;">2.3</div>
<div class="c" style="left:462.5px;top:1245.2px;width:118.1px;height:24.4px;line-height:29.6px;">109.3</div>
<div class="c" style="left:580.6px;top:1245.2px;width:118.2px;height:24.4px;line-height:29.6px;">171.5</div>
<div class="c" style="left:698.8px;top:1245.2px;width:118.2px;height:24.4px;line-height:29.6px;">46.5</div>
<div class="c" style="left:817px;top:1245.2px;width:118.6px;height:24.4px;line-height:29.6px;">154.0</div>
<div class="ttl" style="left:35.6px;top:1308.2px;">환율</div>
<div style="left:31px;top:1352px;width:904.6px;height:1px;background:#686868;"></div>
<div style="left:30.6px;top:1370px;width:905px;height:21.9px;background:#1988d0;"></div>
<div style="left:30.6px;top:1369px;width:905px;height:1px;background:#a9a4a2;"></div>
<div style="left:30.6px;top:1370px;width:905px;height:1px;background:#0d5a90;"></div>
<div class="hc" style="left:30.6px;top:1371px;width:196.9px;height:20.9px;line-height:22.4px;">%</div>
<div class="hc" style="left:227.5px;top:1371px;width:117px;height:20.9px;line-height:22.4px;">종가</div>
<div class="hc" style="left:344.5px;top:1371px;width:118px;height:20.9px;line-height:22.4px;">1D</div>
<div class="hc" style="left:462.5px;top:1371px;width:118.1px;height:20.9px;line-height:22.4px;">3M</div>
<div class="hc" style="left:580.6px;top:1371px;width:118.2px;height:20.9px;line-height:22.4px;">1Y</div>
<div class="hc" style="left:698.8px;top:1371px;width:118.2px;height:20.9px;line-height:22.4px;">MTD</div>
<div class="hc" style="left:817px;top:1371px;width:118.6px;height:20.9px;line-height:22.4px;">YTD</div>
<div style="left:227px;top:1371px;width:1px;height:20.9px;background:#6fb3e2;"></div>
<div style="left:344px;top:1371px;width:1px;height:20.9px;background:#6fb3e2;"></div>
<div style="left:462px;top:1371px;width:1px;height:20.9px;background:#6fb3e2;"></div>
<div style="left:580px;top:1371px;width:2px;height:20.9px;background:#48a0da;"></div>
<div style="left:698px;top:1371px;width:2px;height:20.9px;background:#48a0da;"></div>
<div style="left:817px;top:1371px;width:1px;height:20.9px;background:#6fb3e2;"></div>
<div style="left:30.6px;top:1510.8px;width:905px;height:25.1px;background:#ddebf7;"></div>
<div class="bg" style="left:424.36px;top:1392.6px;width:37.84px;height:22.8px;"></div>
<div class="br" style="left:405.44px;top:1416.9px;width:18.92px;height:22.9px;"></div>
<div class="br" style="left:390.31px;top:1441.3px;width:34.05px;height:22.8px;"></div>
<div class="br" style="left:344.9px;top:1465.6px;width:79.46px;height:23.1px;"></div>
<div class="br" style="left:363.82px;top:1490.2px;width:60.54px;height:19.8px;"></div>
<div class="br" style="left:420.58px;top:1511.5px;width:3.78px;height:23.6px;"></div>
<div class="br" style="left:416.79px;top:1536.6px;width:7.57px;height:22.4px;"></div>
<div class="br" style="left:409.23px;top:1560.5px;width:15.14px;height:22.4px;"></div>
<div class="br" style="left:415.28px;top:1584.4px;width:9.08px;height:23px;"></div>
<div class="br" style="left:352.47px;top:1608.9px;width:71.89px;height:22.9px;"></div>
<div style="left:423.86px;top:1392.9px;width:0px;height:239.7px;border-left:1px dotted rgba(60,40,40,.4);"></div>
<div class="bg" style="left:867.39px;top:1392.6px;width:27.16px;height:22.8px;"></div>
<div class="br" style="left:845.14px;top:1416.9px;width:22.25px;height:22.9px;"></div>
<div class="br" style="left:839.94px;top:1441.3px;width:27.45px;height:22.8px;"></div>
<div class="br" style="left:817.4px;top:1465.6px;width:49.99px;height:23.1px;"></div>
<div class="br" style="left:854.1px;top:1490.2px;width:13.29px;height:19.8px;"></div>
<div class="br" style="left:843.7px;top:1511.5px;width:23.7px;height:23.6px;"></div>
<div class="br" style="left:850.92px;top:1536.6px;width:16.47px;height:22.4px;"></div>
<div class="br" style="left:851.5px;top:1560.5px;width:15.89px;height:22.4px;"></div>
<div class="bg" style="left:867.39px;top:1584.4px;width:67.91px;height:23px;"></div>
<div class="bg" style="left:867.39px;top:1608.9px;width:21.67px;height:22.9px;"></div>
<div style="left:866.89px;top:1392.9px;width:0px;height:239.7px;border-left:1px dotted rgba(60,40,40,.4);"></div>
<div style="left:227px;top:1391.9px;width:1px;height:240.7px;background:#a6a6a6;"></div>
<div style="left:344px;top:1391.9px;width:1px;height:240.7px;background:#a6a6a6;"></div>
<div style="left:462px;top:1391.9px;width:1px;height:240.7px;background:#a6a6a6;"></div>
<div style="left:580px;top:1391.9px;width:2px;height:240.7px;background:#c6c6c6;"></div>
<div style="left:698px;top:1391.9px;width:2px;height:240.7px;background:#c6c6c6;"></div>
<div style="left:817px;top:1391.9px;width:1px;height:240.7px;background:#a6a6a6;"></div>
<div style="left:30.6px;top:1391.3px;width:905px;height:1px;background:#1f2a33;"></div>
<div style="left:30.6px;top:1632.2px;width:905px;height:1.2px;background:#333;"></div>
<div style="left:30.6px;top:1510.3px;width:905px;height:1px;background:#828282;"></div>
<div style="left:30.6px;top:1535.4px;width:905px;height:1px;background:#828282;"></div>
<div class="c" style="left:30.6px;top:1391.9px;width:196.9px;height:24.3px;line-height:29.7px;word-spacing:2px;letter-spacing:.6px;">달러 지수(pt)</div>
<div class="r" style="left:227.5px;top:1391.9px;width:106.5px;height:24.3px;line-height:29.7px;">104.70</div>
<div class="c" style="left:344.5px;top:1391.9px;width:118px;height:24.3px;line-height:29.7px;">1.0</div>
<div class="c" style="left:462.5px;top:1391.9px;width:118.1px;height:24.3px;line-height:29.7px;">6.9</div>
<div class="c" style="left:580.6px;top:1391.9px;width:118.2px;height:24.3px;line-height:29.7px;">13.9</div>
<div class="c" style="left:698.8px;top:1391.9px;width:118.2px;height:24.3px;line-height:29.7px;">2.9</div>
<div class="c" style="left:817px;top:1391.9px;width:118.6px;height:24.3px;line-height:29.7px;">9.4</div>
<div class="c" style="left:30.6px;top:1416.2px;width:196.9px;height:24.4px;line-height:29.8px;word-spacing:2px;letter-spacing:.6px;"><span class="g">달러/</span>유로</div>
<div class="r" style="left:227.5px;top:1416.2px;width:106.5px;height:24.4px;line-height:29.8px;">1.05</div>
<div class="c" style="left:344.5px;top:1416.2px;width:118px;height:24.4px;line-height:29.8px;">-0.5</div>
<div class="c" style="left:462.5px;top:1416.2px;width:118.1px;height:24.4px;line-height:29.8px;">-5.3</div>
<div class="c" style="left:580.6px;top:1416.2px;width:118.2px;height:24.4px;line-height:29.8px;">-11.8</div>
<div class="c" style="left:698.8px;top:1416.2px;width:118.2px;height:24.4px;line-height:29.8px;">-2.2</div>
<div class="c" style="left:817px;top:1416.2px;width:118.6px;height:24.4px;line-height:29.8px;">-7.7</div>
<div class="c" style="left:30.6px;top:1440.6px;width:196.9px;height:24.3px;line-height:29.3px;word-spacing:2px;letter-spacing:.6px;"><span class="g">달러/</span>파운드</div>
<div class="r" style="left:227.5px;top:1440.6px;width:106.5px;height:24.3px;line-height:29.3px;">1.22</div>
<div class="c" style="left:344.5px;top:1440.6px;width:118px;height:24.3px;line-height:29.3px;">-0.9</div>
<div class="c" style="left:462.5px;top:1440.6px;width:118.1px;height:24.3px;line-height:29.3px;">-6.9</div>
<div class="c" style="left:580.6px;top:1440.6px;width:118.2px;height:24.3px;line-height:29.3px;">-12.1</div>
<div class="c" style="left:698.8px;top:1440.6px;width:118.2px;height:24.3px;line-height:29.3px;">-2.9</div>
<div class="c" style="left:817px;top:1440.6px;width:118.6px;height:24.3px;line-height:29.3px;">-9.5</div>
<div class="c" style="left:30.6px;top:1464.9px;width:196.9px;height:24.6px;line-height:28.6px;word-spacing:2px;letter-spacing:.6px;">엔<span class="g">/달러</span></div>
<div class="r" style="left:227.5px;top:1464.9px;width:106.5px;height:24.6px;line-height:28.6px;">135.02</div>
<div class="c" style="left:344.5px;top:1464.9px;width:118px;height:24.6px;line-height:28.6px;">-2.1</div>
<div class="c" style="left:462.5px;top:1464.9px;width:118.1px;height:24.6px;line-height:28.6px;">-13.8</div>
<div class="c" style="left:580.6px;top:1464.9px;width:118.2px;height:24.6px;line-height:28.6px;">-22.5</div>
<div class="c" style="left:698.8px;top:1464.9px;width:118.2px;height:24.6px;line-height:28.6px;">-4.9</div>
<div class="c" style="left:817px;top:1464.9px;width:118.6px;height:24.6px;line-height:28.6px;">-17.3</div>
<div class="c" style="left:30.6px;top:1489.5px;width:196.9px;height:21.3px;line-height:24.3px;word-spacing:2px;letter-spacing:.6px;"><span class="g">달러/</span>호주 달러</div>
<div class="r" style="left:227.5px;top:1489.5px;width:106.5px;height:21.3px;line-height:24.3px;">0.69</div>
<div class="c" style="left:344.5px;top:1489.5px;width:118px;height:21.3px;line-height:24.3px;">-1.6</div>
<div class="c" style="left:462.5px;top:1489.5px;width:118.1px;height:21.3px;line-height:24.3px;">-6.0</div>
<div class="c" style="left:580.6px;top:1489.5px;width:118.2px;height:21.3px;line-height:24.3px;">-8.2</div>
<div class="c" style="left:698.8px;top:1489.5px;width:118.2px;height:21.3px;line-height:24.3px;">-3.4</div>
<div class="c" style="left:817px;top:1489.5px;width:118.6px;height:21.3px;line-height:24.3px;">-4.6</div>
<div class="c" style="left:30.6px;top:1510.8px;width:196.9px;height:25.1px;line-height:29.3px;word-spacing:2px;letter-spacing:.6px;">원<span class="g">/달러</span></div>
<div class="r" style="left:227.5px;top:1510.8px;width:106.5px;height:25.1px;line-height:29.3px;">1,288.00</div>
<div class="c" style="left:344.5px;top:1510.8px;width:118px;height:25.1px;line-height:29.3px;">-0.1</div>
<div class="c" style="left:462.5px;top:1510.8px;width:118.1px;height:25.1px;line-height:29.3px;">-6.1</div>
<div class="c" style="left:580.6px;top:1510.8px;width:118.2px;height:25.1px;line-height:29.3px;">-13.9</div>
<div class="c" style="left:698.8px;top:1510.8px;width:118.2px;height:25.1px;line-height:29.3px;">-4.1</div>
<div class="c" style="left:817px;top:1510.8px;width:118.6px;height:25.1px;line-height:29.3px;">-8.2</div>
<div class="c" style="left:30.6px;top:1535.9px;width:196.9px;height:23.9px;line-height:28.9px;word-spacing:2px;letter-spacing:.6px;">위안화(역내)<span class="g">/달러</span></div>
<div class="r" style="left:227.5px;top:1535.9px;width:106.5px;height:23.9px;line-height:28.9px;">6.72</div>
<div class="c" style="left:344.5px;top:1535.9px;width:118px;height:23.9px;line-height:28.9px;">-0.2</div>
<div class="c" style="left:462.5px;top:1535.9px;width:118.1px;height:23.9px;line-height:28.9px;">-5.8</div>
<div class="c" style="left:580.6px;top:1535.9px;width:118.2px;height:23.9px;line-height:28.9px;">-4.2</div>
<div class="c" style="left:698.8px;top:1535.9px;width:118.2px;height:23.9px;line-height:28.9px;">-0.7</div>
<div class="c" style="left:817px;top:1535.9px;width:118.6px;height:23.9px;line-height:28.9px;">-5.7</div>
<div class="c" style="left:30.6px;top:1559.8px;width:196.9px;height:23.9px;line-height:29.3px;word-spacing:2px;letter-spacing:.6px;">위안화(역외)<span class="g">/달러</span></div>
<div class="r" style="left:227.5px;top:1559.8px;width:106.5px;height:23.9px;line-height:29.3px;">6.71</div>
<div class="c" style="left:344.5px;top:1559.8px;width:118px;height:23.9px;line-height:29.3px;">-0.4</div>
<div class="c" style="left:462.5px;top:1559.8px;width:118.1px;height:23.9px;line-height:29.3px;">-5.4</div>
<div class="c" style="left:580.6px;top:1559.8px;width:118.2px;height:23.9px;line-height:29.3px;">-3.9</div>
<div class="c" style="left:698.8px;top:1559.8px;width:118.2px;height:23.9px;line-height:29.3px;">-0.5</div>
<div class="c" style="left:817px;top:1559.8px;width:118.6px;height:23.9px;line-height:29.3px;">-5.5</div>
<div class="c" style="left:30.6px;top:1583.7px;width:196.9px;height:24.5px;line-height:29.9px;word-spacing:2px;letter-spacing:.6px;">러시아 루블<span class="g">/달러</span></div>
<div class="r" style="left:227.5px;top:1583.7px;width:106.5px;height:24.5px;line-height:29.9px;">57.50</div>
<div class="c" style="left:344.5px;top:1583.7px;width:118px;height:24.5px;line-height:29.9px;">-0.2</div>
<div class="c" style="left:462.5px;top:1583.7px;width:118.1px;height:24.5px;line-height:29.9px;">43.9</div>
<div class="c" style="left:580.6px;top:1583.7px;width:118.2px;height:24.5px;line-height:29.9px;">20.5</div>
<div class="c" style="left:698.8px;top:1583.7px;width:118.2px;height:24.5px;line-height:29.9px;">8.0</div>
<div class="c" style="left:817px;top:1583.7px;width:118.6px;height:24.5px;line-height:29.9px;">23.5</div>
<div class="c" style="left:30.6px;top:1608.2px;width:196.9px;height:24.4px;line-height:29.8px;word-spacing:2px;letter-spacing:.6px;">브라질 헤알<span class="g">/달러</span></div>
<div class="r" style="left:227.5px;top:1608.2px;width:106.5px;height:24.4px;line-height:29.8px;">5.15</div>
<div class="c" style="left:344.5px;top:1608.2px;width:118px;height:24.4px;line-height:29.8px;">-1.9</div>
<div class="c" style="left:462.5px;top:1608.2px;width:118.1px;height:24.4px;line-height:29.8px;">-2.3</div>
<div class="c" style="left:580.6px;top:1608.2px;width:118.2px;height:24.4px;line-height:29.8px;">-2.9</div>
<div class="c" style="left:698.8px;top:1608.2px;width:118.2px;height:24.4px;line-height:29.8px;">-8.8</div>
<div class="c" style="left:817px;top:1608.2px;width:118.6px;height:24.4px;line-height:29.8px;">7.5</div>
<div class="tri" style="left:462.8px;top:1560.1px;"></div>
<div class="tri" style="left:462.8px;top:1584px;"></div>
<div class="tri" style="left:462.8px;top:1608.5px;"></div>
<div style="left:35px;top:1634.5px;font-size:16.55px;line-height:22px;color:#222;">* 환율 읽는 법: 환율 기간 성과는 미국 달러 대비 강세/약세로 표시. 즉, ‘+’는 달러 대비 강세, ‘-’는 달러 대비 약세를 의미.</div>
<div class="ttl" style="left:35.6px;top:1692.2px;">원자재</div>
<div style="left:31px;top:1736px;width:904.6px;height:2px;background:#999;"></div>
<div style="left:30.6px;top:1754px;width:905px;height:22.5px;background:#1988d0;"></div>
<div style="left:30.6px;top:1754px;width:905px;height:1px;background:#0a2238;"></div>
<div class="hc" style="left:30.6px;top:1755px;width:196.9px;height:21.5px;line-height:23px;">%</div>
<div class="hc" style="left:227.5px;top:1755px;width:117px;height:21.5px;line-height:23px;">종가</div>
<div class="hc" style="left:344.5px;top:1755px;width:118px;height:21.5px;line-height:23px;">1D</div>
<div class="hc" style="left:462.5px;top:1755px;width:118.1px;height:21.5px;line-height:23px;">3M</div>
<div class="hc" style="left:580.6px;top:1755px;width:118.2px;height:21.5px;line-height:23px;">1Y</div>
<div class="hc" style="left:698.8px;top:1755px;width:118.2px;height:21.5px;line-height:23px;">MTD</div>
<div class="hc" style="left:817px;top:1755px;width:118.6px;height:21.5px;line-height:23px;">YTD</div>
<div style="left:227px;top:1755px;width:1px;height:21.5px;background:#6fb3e2;"></div>
<div style="left:344px;top:1755px;width:1px;height:21.5px;background:#6fb3e2;"></div>
<div style="left:462px;top:1755px;width:1px;height:21.5px;background:#6fb3e2;"></div>
<div style="left:580px;top:1755px;width:2px;height:21.5px;background:#48a0da;"></div>
<div style="left:698px;top:1755px;width:2px;height:21.5px;background:#48a0da;"></div>
<div style="left:817px;top:1755px;width:1px;height:21.5px;background:#6fb3e2;"></div>
<div class="br" style="left:348.25px;top:1777.2px;width:113.95px;height:22.8px;"></div>
<div class="br" style="left:344.9px;top:1801.5px;width:117.3px;height:22.8px;"></div>
<div class="br" style="left:453.82px;top:1825.8px;width:8.38px;height:22.8px;"></div>
<div class="br" style="left:438.74px;top:1850.1px;width:23.46px;height:22.8px;"></div>
<div class="br" style="left:423.66px;top:1874.4px;width:38.54px;height:22.8px;"></div>
<div class="br" style="left:430.36px;top:1898.7px;width:31.84px;height:22.8px;"></div>
<div class="br" style="left:393.5px;top:1923px;width:68.7px;height:22.8px;"></div>
<div class="br" style="left:455.5px;top:1947.3px;width:6.7px;height:22.8px;"></div>
<div class="br" style="left:453.82px;top:1971.6px;width:8.38px;height:22.8px;"></div>
<div class="bg" style="left:829.77px;top:1777.2px;width:55.95px;height:22.8px;"></div>
<div class="bg" style="left:829.77px;top:1801.5px;width:105.53px;height:22.8px;"></div>
<div class="bg" style="left:829.77px;top:1825.8px;width:1.5px;height:22.8px;"></div>
<div class="br" style="left:820.46px;top:1850.1px;width:9.3px;height:22.8px;"></div>
<div class="br" style="left:817.4px;top:1874.4px;width:12.37px;height:22.8px;"></div>
<div class="br" style="left:825.48px;top:1898.7px;width:4.29px;height:22.8px;"></div>
<div class="bg" style="left:829.77px;top:1923px;width:41.87px;height:22.8px;"></div>
<div class="bg" style="left:829.77px;top:1947.3px;width:34.4px;height:22.8px;"></div>
<div class="bg" style="left:829.77px;top:1971.6px;width:39.42px;height:22.8px;"></div>
<div style="left:829.27px;top:1777.5px;width:0px;height:217.7px;border-left:1px dotted rgba(60,40,40,.4);"></div>
<div style="left:227px;top:1776.5px;width:1px;height:218.7px;background:#a6a6a6;"></div>
<div style="left:344px;top:1776.5px;width:1px;height:218.7px;background:#a6a6a6;"></div>
<div style="left:462px;top:1776.5px;width:1px;height:218.7px;background:#a6a6a6;"></div>
<div style="left:580px;top:1776.5px;width:2px;height:218.7px;background:#c6c6c6;"></div>
<div style="left:698px;top:1776.5px;width:2px;height:218.7px;background:#c6c6c6;"></div>
<div style="left:817px;top:1776.5px;width:1px;height:218.7px;background:#a6a6a6;"></div>
<div style="left:30.6px;top:1775.9px;width:905px;height:1px;background:#1f2a33;"></div>
<div style="left:30.6px;top:1994.8px;width:905px;height:1.2px;background:#333;"></div>
<div style="left:30.6px;top:1824.6px;width:905px;height:1px;background:#828282;"></div>
<div style="left:30.6px;top:1873.2px;width:905px;height:1px;background:#828282;"></div>
<div style="left:30.6px;top:1921.8px;width:905px;height:1px;background:#828282;"></div>
<div class="c" style="left:30.6px;top:1776.5px;width:196.9px;height:24.3px;line-height:27.7px;word-spacing:2px;letter-spacing:.25px;">WTI (bbl)</div>
<div class="r" style="left:227.5px;top:1776.5px;width:106.5px;height:24.3px;line-height:27.7px;">109.6</div>
<div class="c" style="left:344.5px;top:1776.5px;width:118px;height:24.3px;line-height:27.7px;">-6.8</div>
<div class="c" style="left:462.5px;top:1776.5px;width:118.1px;height:24.3px;line-height:27.7px;">6.4</div>
<div class="c" style="left:580.6px;top:1776.5px;width:118.2px;height:24.3px;line-height:27.7px;">54.2</div>
<div class="c" style="left:698.8px;top:1776.5px;width:118.2px;height:24.3px;line-height:27.7px;">-4.5</div>
<div class="c" style="left:817px;top:1776.5px;width:118.6px;height:24.3px;line-height:27.7px;">45.7</div>
<div class="c" style="left:30.6px;top:1800.8px;width:196.9px;height:24.3px;line-height:27.92px;word-spacing:2px;letter-spacing:.25px;">천연가스 (MMBtu)</div>
<div class="r" style="left:227.5px;top:1800.8px;width:106.5px;height:24.3px;line-height:27.92px;">6.9</div>
<div class="c" style="left:344.5px;top:1800.8px;width:118px;height:24.3px;line-height:27.92px;">-7.0</div>
<div class="c" style="left:462.5px;top:1800.8px;width:118.1px;height:24.3px;line-height:27.92px;">39.2</div>
<div class="c" style="left:580.6px;top:1800.8px;width:118.2px;height:24.3px;line-height:27.92px;">113.5</div>
<div class="c" style="left:698.8px;top:1800.8px;width:118.2px;height:24.3px;line-height:27.92px;">-14.7</div>
<div class="c" style="left:817px;top:1800.8px;width:118.6px;height:24.3px;line-height:27.92px;">86.2</div>
<div class="c" style="left:30.6px;top:1825.1px;width:196.9px;height:24.3px;line-height:28.14px;word-spacing:2px;letter-spacing:.25px;">금 (t oz)</div>
<div class="r" style="left:227.5px;top:1825.1px;width:106.5px;height:24.3px;line-height:28.14px;">1,840.6</div>
<div class="c" style="left:344.5px;top:1825.1px;width:118px;height:24.3px;line-height:28.14px;">-0.5</div>
<div class="c" style="left:462.5px;top:1825.1px;width:118.1px;height:24.3px;line-height:28.14px;">-5.3</div>
<div class="c" style="left:580.6px;top:1825.1px;width:118.2px;height:24.3px;line-height:28.14px;">3.7</div>
<div class="c" style="left:698.8px;top:1825.1px;width:118.2px;height:24.3px;line-height:28.14px;">-0.1</div>
<div class="c" style="left:817px;top:1825.1px;width:118.6px;height:24.3px;line-height:28.14px;">0.7</div>
<div class="c" style="left:30.6px;top:1849.4px;width:196.9px;height:24.3px;line-height:28.36px;word-spacing:2px;letter-spacing:.25px;">은 (t oz)</div>
<div class="r" style="left:227.5px;top:1849.4px;width:106.5px;height:24.3px;line-height:28.36px;">21.6</div>
<div class="c" style="left:344.5px;top:1849.4px;width:118px;height:24.3px;line-height:28.36px;">-1.4</div>
<div class="c" style="left:462.5px;top:1849.4px;width:118.1px;height:24.3px;line-height:28.36px;">-15.7</div>
<div class="c" style="left:580.6px;top:1849.4px;width:118.2px;height:24.3px;line-height:28.36px;">-16.5</div>
<div class="c" style="left:698.8px;top:1849.4px;width:118.2px;height:24.3px;line-height:28.36px;">-0.5</div>
<div class="c" style="left:817px;top:1849.4px;width:118.6px;height:24.3px;line-height:28.36px;">-7.6</div>
<div class="c" style="left:30.6px;top:1873.7px;width:196.9px;height:24.3px;line-height:28.58px;word-spacing:2px;letter-spacing:.25px;">구리 (lb)</div>
<div class="r" style="left:227.5px;top:1873.7px;width:106.5px;height:24.3px;line-height:28.58px;">401.4</div>
<div class="c" style="left:344.5px;top:1873.7px;width:118px;height:24.3px;line-height:28.58px;">-2.3</div>
<div class="c" style="left:462.5px;top:1873.7px;width:118.1px;height:24.3px;line-height:28.58px;">-14.6</div>
<div class="c" style="left:580.6px;top:1873.7px;width:118.2px;height:24.3px;line-height:28.58px;">-3.9</div>
<div class="c" style="left:698.8px;top:1873.7px;width:118.2px;height:24.3px;line-height:28.58px;">-6.6</div>
<div class="c" style="left:817px;top:1873.7px;width:118.6px;height:24.3px;line-height:28.58px;">-10.1</div>
<div class="c" style="left:30.6px;top:1898px;width:196.9px;height:24.3px;line-height:28.8px;word-spacing:2px;letter-spacing:.25px;">알루미늄 (T)</div>
<div class="r" style="left:227.5px;top:1898px;width:106.5px;height:24.3px;line-height:28.8px;">19,675.0</div>
<div class="c" style="left:344.5px;top:1898px;width:118px;height:24.3px;line-height:28.8px;">-1.9</div>
<div class="c" style="left:462.5px;top:1898px;width:118.1px;height:24.3px;line-height:28.8px;">-10.9</div>
<div class="c" style="left:580.6px;top:1898px;width:118.2px;height:24.3px;line-height:28.8px;">5.1</div>
<div class="c" style="left:698.8px;top:1898px;width:118.2px;height:24.3px;line-height:28.8px;">-5.3</div>
<div class="c" style="left:817px;top:1898px;width:118.6px;height:24.3px;line-height:28.8px;">-3.5</div>
<div class="c" style="left:30.6px;top:1922.3px;width:196.9px;height:24.3px;line-height:29.02px;word-spacing:2px;letter-spacing:.25px;">소맥 (Bu)</div>
<div class="r" style="left:227.5px;top:1922.3px;width:106.5px;height:24.3px;line-height:29.02px;">1,034.3</div>
<div class="c" style="left:344.5px;top:1922.3px;width:118px;height:24.3px;line-height:29.02px;">-4.1</div>
<div class="c" style="left:462.5px;top:1922.3px;width:118.1px;height:24.3px;line-height:29.02px;">-5.8</div>
<div class="c" style="left:580.6px;top:1922.3px;width:118.2px;height:24.3px;line-height:29.02px;">61.9</div>
<div class="c" style="left:698.8px;top:1922.3px;width:118.2px;height:24.3px;line-height:29.02px;">-4.9</div>
<div class="c" style="left:817px;top:1922.3px;width:118.6px;height:24.3px;line-height:29.02px;">34.2</div>
<div class="c" style="left:30.6px;top:1946.6px;width:196.9px;height:24.3px;line-height:29.24px;word-spacing:2px;letter-spacing:.25px;">대두 (Bu)</div>
<div class="r" style="left:227.5px;top:1946.6px;width:106.5px;height:24.3px;line-height:29.24px;">1,702.0</div>
<div class="c" style="left:344.5px;top:1946.6px;width:118px;height:24.3px;line-height:29.24px;">-0.4</div>
<div class="c" style="left:462.5px;top:1946.6px;width:118.1px;height:24.3px;line-height:29.24px;">2.0</div>
<div class="c" style="left:580.6px;top:1946.6px;width:118.2px;height:24.3px;line-height:29.24px;">28.0</div>
<div class="c" style="left:698.8px;top:1946.6px;width:118.2px;height:24.3px;line-height:29.24px;">1.1</div>
<div class="c" style="left:817px;top:1946.6px;width:118.6px;height:24.3px;line-height:29.24px;">28.1</div>
<div class="c" style="left:30.6px;top:1970.9px;width:196.9px;height:24.3px;line-height:29.46px;word-spacing:2px;letter-spacing:.25px;">옥수수 (Bu)</div>
<div class="r" style="left:227.5px;top:1970.9px;width:106.5px;height:24.3px;line-height:29.46px;">784.5</div>
<div class="c" style="left:344.5px;top:1970.9px;width:118px;height:24.3px;line-height:29.46px;">-0.5</div>
<div class="c" style="left:462.5px;top:1970.9px;width:118.1px;height:24.3px;line-height:29.46px;">4.0</div>
<div class="c" style="left:580.6px;top:1970.9px;width:118.2px;height:24.3px;line-height:29.46px;">23.9</div>
<div class="c" style="left:698.8px;top:1970.9px;width:118.2px;height:24.3px;line-height:29.46px;">4.1</div>
<div class="c" style="left:817px;top:1970.9px;width:118.6px;height:24.3px;line-height:29.46px;">32.2</div>
<div class="tri" style="left:462.8px;top:1776.8px;"></div>
<div class="tri" style="left:462.8px;top:1801.1px;"></div>
<div class="tri" style="left:462.8px;top:1825.4px;"></div>
<div class="tri" style="left:462.8px;top:1849.7px;"></div>
<div class="tri" style="left:462.8px;top:1874px;"></div>
<div class="tri" style="left:462.8px;top:1898.3px;"></div>
<div class="tri" style="left:462.8px;top:1922.6px;"></div>
<div class="tri" style="left:462.8px;top:1946.9px;"></div>
<div class="tri" style="left:462.8px;top:1971.2px;"></div>
</div></body></html>
